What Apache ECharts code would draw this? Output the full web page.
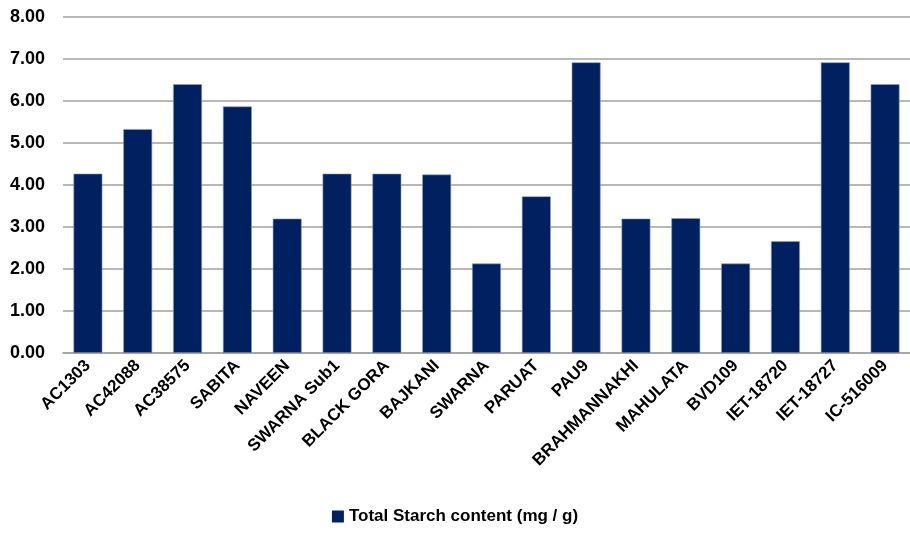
<!DOCTYPE html>
<html>
<head>
    <meta http-equiv="Content-Type" content="text/html; charset=utf-8" />
    <script src="https://cdn.jsdelivr.net/npm/echarts@6/dist/echarts.min.js"></script>
    <style>
        html, body { margin: 0; padding: 0; background: #fff; }
    </style>
</head>
<body>
<div id="chart" style="width: 910px; height: 534px;"></div>

<script type="text/javascript">
    // 品种名称
    var varieties = ['AC1303', 'AC42088', 'AC38575', 'SABITA', 'NAVEEN', 'SWARNA Sub1', 'BLACK GORA',
        'BAJKANI', 'SWARNA', 'PARUAT', 'PAU9', 'BRAHMANNAKHI', 'MAHULATA', 'BVD109', 'IET-18720',
        'IET-18727', 'IC-516009'];
    // 总淀粉含量 (mg / g)
    var starch = [4.27, 5.33, 6.40, 5.87, 3.20, 4.27, 4.27, 4.25, 2.13, 3.73, 6.92, 3.20, 3.21, 2.13, 2.66, 6.92, 6.40];
    var seriesName = 'Total Starch content (mg / g)';

    var chart = echarts.init(document.getElementById('chart'));
    var option = {
        animation: false,
        textStyle: { fontFamily: 'Liberation Sans' },
        grid: {
            left: 63,
            right: 0,
            top: 17,
            bottom: 181
        },
        legend: {
            data: [{ name: seriesName, itemStyle: { borderWidth: 0 } }],
            bottom: 4,
            left: 'center',
            icon: 'rect',
            itemWidth: 12,
            itemHeight: 12,
            itemGap: 4,
            textStyle: { fontSize: 17, fontWeight: 'bold', color: '#000' }
        },
        xAxis: {
            type: 'category',
            data: varieties,
            axisLine: { lineStyle: { color: '#a0a0a0', width: 1.5 } },
            axisTick: { show: false },
            axisLabel: {
                rotate: 45,
                interval: 0,
                margin: 10,
                fontSize: 17,
                fontWeight: 'bold',
                color: '#000'
            }
        },
        yAxis: {
            type: 'value',
            min: 0,
            max: 8,
            interval: 1,
            axisLine: { show: false },
            axisTick: { show: false },
            splitLine: { lineStyle: { color: '#a0a0a0', width: 1.5 } },
            axisLabel: {
                margin: 18,
                fontSize: 18,
                fontWeight: 'bold',
                color: '#000',
                formatter: function (v) { return v.toFixed(2); }
            }
        },
        series: [
            {
                name: seriesName,
                type: 'bar',
                data: starch,
                barCategoryGap: '42%',
                itemStyle: {
                    color: '#002060',
                    borderColor: '#8fa0c4',
                    borderWidth: 0.6
                }
            }
        ]
    };
    chart.setOption(option);
</script>
</body>
</html>
